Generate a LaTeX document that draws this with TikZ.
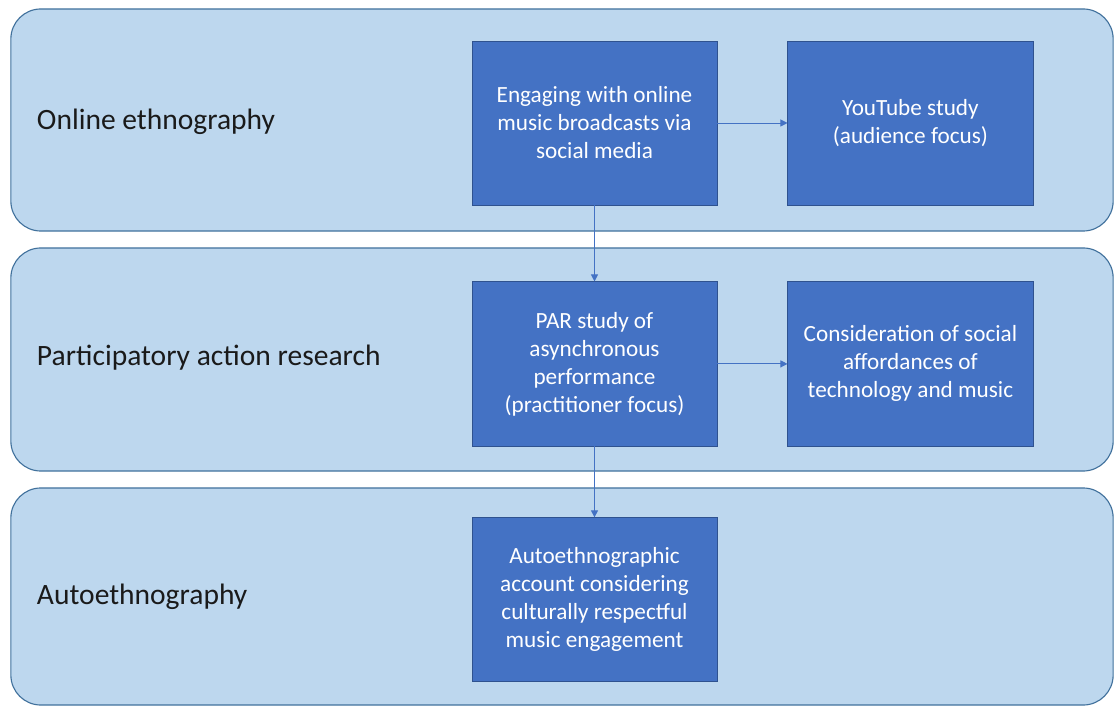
\documentclass[tikz,border=0pt]{standalone}
\usepackage{fontspec}
\setmainfont{Carlito}
\usetikzlibrary{arrows.meta, positioning}
\definecolor{bandfill}{HTML}{BDD7EE}
\definecolor{banddraw}{HTML}{41719C}
\definecolor{boxfill}{HTML}{4472C4}
\definecolor{boxdraw}{HTML}{2F528F}
\definecolor{darktext}{HTML}{1A1A1A}

\begin{document}
\begin{tikzpicture}[x=0.025cm, y=-0.025cm,
		band/.style={draw=banddraw, fill=bandfill, line width=0.8pt, rounded corners=0.75cm, minimum width=27.55cm, inner sep=0pt},
		stepbox/.style={draw=boxdraw, fill=boxfill, line width=0.6pt, minimum width=6.125cm, minimum height=4.1cm, align=center, text=white, font=\fontsize{16.5}{19.9}\selectfont, inner sep=0pt},
		lbl/.style={font=\fontsize{21}{25}\selectfont, text=darktext, anchor=west},
		link/.style={-{Triangle[length=5pt, width=5pt]}, line width=0.7pt, boxfill}]
	\useasboundingbox (0,0) rectangle (1115,707);
	% the three method bands
	\node[band, minimum height=5.55cm] (online) at (562,120) {};
	\node[band, minimum height=5.575cm] (par) at (562,359.5) {};
	\node[band, minimum height=5.425cm] (auto) at (562,596.5) {};
	\node[lbl] (onlinelbl) at (32,122) {Online ethnography};
	\node[lbl] (parlbl) at (32,358) {Participatory action research};
	\node[lbl] (autolbl) at (32,597) {Autoethnography};
	% studies
	\node[stepbox] (engage) at (594.5,123) {Engaging with online\\music broadcasts via\\social media};
	\node[stepbox, right=1.75cm of engage] (youtube) {YouTube study\\(audience focus)};
	\node[stepbox, below=1.9cm of engage] (parstudy) {PAR study of\\asynchronous\\performance\\(practitioner focus)};
	\node[stepbox, right=1.75cm of parstudy] (afford) {Consideration of social\\affordances of\\technology and music};
	\node[stepbox, below=1.775cm of parstudy] (account) {Autoethnographic\\account considering\\culturally respectful\\music engagement};
	\draw[link] (engage) -- (youtube);
	\draw[link] (engage) -- (parstudy);
	\draw[link] (parstudy) -- (afford);
	\draw[link] (parstudy) -- (account);
\end{tikzpicture}
\end{document}
